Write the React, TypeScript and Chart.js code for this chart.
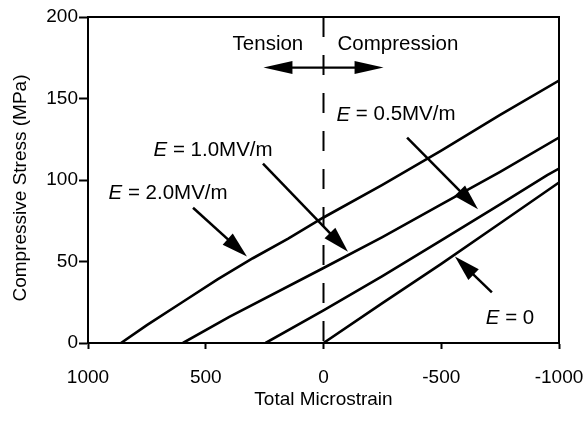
import React, { useEffect, useRef } from "react";
import { Chart, registerables } from "chart.js";

Chart.register(...registerables);

// ---- data (x: total microstrain, y: compressive stress MPa) ----
const e0X = [0, -250, -500, -750, -1000];
const e0Y = [0, 24.5, 48.5, 73.5, 98.5];

const e05X = [246, 0, -250, -500, -750, -950, -1000];
const e05Y = [0, 20, 41, 63, 85, 103, 107];

const e10X = [597, 400, 0, -250, -500, -750, -1000];
const e10Y = [0, 16, 46, 65, 85, 105, 126];

const e20X = [860, 750, 600, 450, 300, 150, 0, -250, -500, -750, -1000];
const e20Y = [0, 11, 25, 39, 52, 64, 77, 97, 118, 140, 161];

const xTicks = [1000, 500, 0, -500, -1000];
const yTicks = [0, 50, 100, 150, 200];

const xTitle = "Total Microstrain";
const yTitle = "Compressive Stress (MPa)";

// annotation texts and arrows (data coordinates)
const labelTexts = ["Tension", "Compression"];
const labelX = [236, -316];
const labelY = [183, 183];

const eLabels = ["2.0MV/m", "1.0MV/m", "0.5MV/m", "0"];
const eLabelX = [660, 469, -308, -792];
const eLabelY = [92, 118, 140, 15];

const arrowFromX = [554, 257, -355, -715];
const arrowFromY = [83, 110, 126, 31];
const arrowToX = [325, -104, -656, -558];
const arrowToY = [53, 56, 82, 53];

const dblArrowX = [255, -255];
const dblArrowY = 169;

const FONT = "'Liberation Sans', Arial, Helvetica, sans-serif";
const FS_AXIS = 19;
const FS_ANNO = 20.5;

const pts = (xs: number[], ys: number[]) => xs.map((x, i) => ({ x, y: ys[i] }));

function drawArrowHead(ctx: CanvasRenderingContext2D, fx: number, fy: number, tx: number, ty: number, len: number, hw: number) {
  const a = Math.atan2(ty - fy, tx - fx);
  const bx = tx - Math.cos(a) * len;
  const by = ty - Math.sin(a) * len;
  const nx = -Math.sin(a), ny = Math.cos(a);
  ctx.beginPath();
  ctx.moveTo(tx, ty);
  ctx.lineTo(bx + nx * hw, by + ny * hw);
  ctx.lineTo(bx - nx * hw, by - ny * hw);
  ctx.closePath();
  ctx.fill();
}

const annotationPlugin = {
  id: "annos",
  beforeDatasetsDraw(chart: any) {
    const { ctx, chartArea, scales } = chart;
    const x0 = scales.x.getPixelForValue(0);
    ctx.save();
    ctx.strokeStyle = "#000";
    ctx.lineWidth = 2;
    ctx.setLineDash([20, 18]);
    ctx.beginPath();
    ctx.moveTo(x0, chartArea.top);
    ctx.lineTo(x0, chartArea.bottom);
    ctx.stroke();
    ctx.setLineDash([]);
    ctx.restore();
  },
  afterDatasetsDraw(chart: any) {
    const { ctx, chartArea, scales } = chart;
    const xs = scales.x, ys = scales.y;
    const px = (v: number) => xs.getPixelForValue(v);
    const py = (v: number) => ys.getPixelForValue(v);
    ctx.save();
    ctx.fillStyle = "#000";
    ctx.strokeStyle = "#000";
    ctx.lineWidth = 2;
    ctx.strokeRect(chartArea.left, chartArea.top, chartArea.right - chartArea.left, chartArea.bottom - chartArea.top);

    // y axis title
    ctx.save();
    ctx.font = `${FS_AXIS}px ${FONT}`;
    ctx.textAlign = "center";
    ctx.textBaseline = "middle";
    ctx.translate(21, (chartArea.top + chartArea.bottom) / 2 + 8);
    ctx.rotate(-Math.PI / 2);
    ctx.fillText(yTitle, 0, 0);
    ctx.restore();

    ctx.textBaseline = "middle";
    ctx.font = `${FS_ANNO}px ${FONT}`;
    ctx.textAlign = "center";
    labelTexts.forEach((t, i) => ctx.fillText(t, px(labelX[i]), py(labelY[i])));

    // double arrow
    const ay = py(dblArrowY);
    const ax1 = px(dblArrowX[0]), ax2 = px(dblArrowX[1]);
    ctx.lineWidth = 2.2;
    ctx.beginPath();
    ctx.moveTo(ax1 + 10, ay);
    ctx.lineTo(ax2 - 10, ay);
    ctx.stroke();
    drawArrowHead(ctx, ax2, ay, ax1, ay, 29, 6.5);
    drawArrowHead(ctx, ax1, ay, ax2, ay, 29, 6.5);

    // E labels
    ctx.textAlign = "left";
    eLabels.forEach((t, i) => {
      const italic = `italic ${FS_ANNO}px ${FONT}`;
      const normal = `${FS_ANNO}px ${FONT}`;
      const rest = " = " + t;
      ctx.font = italic;
      const w1 = ctx.measureText("E").width;
      ctx.font = normal;
      const w2 = ctx.measureText(rest).width;
      const cx = px(eLabelX[i]), cy = py(eLabelY[i]);
      const sx = cx - (w1 + w2) / 2;
      ctx.font = italic;
      ctx.fillText("E", sx, cy);
      ctx.font = normal;
      ctx.fillText(rest, sx + w1, cy);
    });

    // arrows
    arrowFromX.forEach((_, i) => {
      const fx = px(arrowFromX[i]), fy = py(arrowFromY[i]);
      const tx = px(arrowToX[i]), ty = py(arrowToY[i]);
      const a = Math.atan2(ty - fy, tx - fx);
      ctx.lineWidth = 2.5;
      ctx.beginPath();
      ctx.moveTo(fx, fy);
      ctx.lineTo(tx - Math.cos(a) * 10, ty - Math.sin(a) * 10);
      ctx.stroke();
      drawArrowHead(ctx, fx, fy, tx, ty, 26, 7.5);
    });
    ctx.restore();
  },
};

export default function App() {
  const ref = useRef<HTMLCanvasElement | null>(null);
  useEffect(() => {
    if (!ref.current) return;
    const mk = (xs: number[], ys: number[], label: string) => ({
      label,
      data: pts(xs, ys),
      borderColor: "#000",
      backgroundColor: "#000",
      borderWidth: 2.6,
      pointRadius: 0,
      tension: 0,
      fill: false,
    });
    const chart = new Chart(ref.current, {
      type: "line",
      data: {
        datasets: [
          mk(e0X, e0Y, "E = 0"),
          mk(e05X, e05Y, "E = 0.5MV/m"),
          mk(e10X, e10Y, "E = 1.0MV/m"),
          mk(e20X, e20Y, "E = 2.0MV/m"),
        ],
      },
      options: {
        animation: false,
        responsive: true,
        maintainAspectRatio: false,
        layout: { padding: { left: 0, top: 17, right: 27, bottom: 0 } },
        plugins: { legend: { display: false }, tooltip: { enabled: false } },
        scales: {
          x: {
            type: "linear",
            min: -1000,
            max: 1000,
            reverse: true,
            afterFit: (s: any) => { s.height = 79; s.paddingLeft = 0; s.paddingRight = 0; },
            afterBuildTicks: (s: any) => { s.ticks = xTicks.map((v) => ({ value: v })); },
            grid: { drawOnChartArea: false, drawTicks: true, tickLength: 6, tickColor: "#000", tickWidth: 2 },
            border: { display: true, color: "#000", width: 2 },
            ticks: { color: "#000", font: { family: FONT, size: FS_AXIS }, padding: 17, maxRotation: 0, callback: (v: any) => String(v) },
            title: { display: true, text: xTitle, color: "#000", font: { family: FONT, size: FS_AXIS }, padding: { top: 0, bottom: 11 } },
          },
          y: {
            type: "linear",
            min: 0,
            max: 200,
            afterFit: (s: any) => { s.width = 88; s.paddingTop = 0; s.paddingBottom = 0; },
            afterBuildTicks: (s: any) => { s.ticks = yTicks.map((v) => ({ value: v })); },
            grid: { drawOnChartArea: false, drawTicks: true, tickLength: 9, tickColor: "#000", tickWidth: 2 },
            border: { display: true, color: "#000", width: 2 },
            ticks: { color: "#000", font: { family: FONT, size: FS_AXIS }, padding: 1, callback: (v: any) => String(v) },
            title: { display: false, text: yTitle },
          },
        },
      },
      plugins: [annotationPlugin],
    });
    return () => chart.destroy();
  }, []);
  return (
    <div style={{ position: "fixed", left: 0, top: 0, width: 586, height: 422, background: "#fff" }}>
      <canvas ref={ref} />
    </div>
  );
}
